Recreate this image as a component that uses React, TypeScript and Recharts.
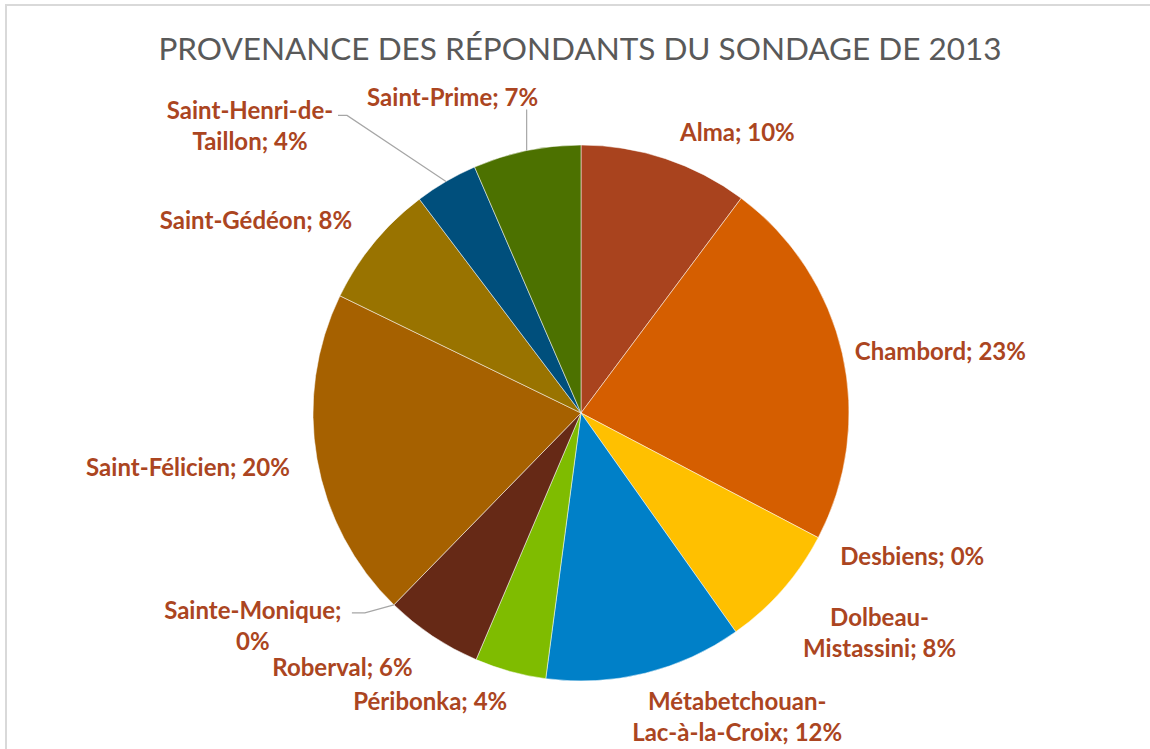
import { Cell, Pie, PieChart } from "recharts";

const regions = [
  "Alma",
  "Chambord",
  "Desbiens",
  "Dolbeau-Mistassini",
  "Métabetchouan-Lac-à-la-Croix",
  "Péribonka",
  "Roberval",
  "Sainte-Monique",
  "Saint-Félicien",
  "Saint-Gédéon",
  "Saint-Henri-de-Taillon",
  "Saint-Prime",
];
const shares = [10.2, 22.5, 0, 7.5, 11.9, 4.3, 5.9, 0, 19.9, 7.5, 3.8, 6.5];
const colors = [
  "#A9431E",
  "#D55E00",
  "#E8A200",
  "#FFC000",
  "#0080C8",
  "#7FBC00",
  "#662916",
  "#7F7F7F",
  "#A66100",
  "#997300",
  "#004F7C",
  "#4C7100",
];

const data = regions.map((name, i) => ({ name, value: shares[i] }));

// label nudges from the slice's outer edge, line wrapping and leader lines
type Layout = {
  dx: number;
  dy: number;
  wrap?: "first" | "last" | "semi";
  leader?: [number, number][];
};
const layout: Layout[] = [
  { dx: 72, dy: -28 },
  { dx: 98, dy: -4 },
  { dx: 94, dy: 17 },
  { dx: 97, dy: 42, wrap: "first" },
  { dx: 92, dy: 42, wrap: "first" },
  { dx: -80, dy: 28 },
  { dx: -90, dy: 30 },
  { dx: -141, dy: 20, wrap: "semi", leader: [[-29, 8], [-42, 8]] },
  { dx: -129, dy: 7 },
  { dx: -118, dy: -24 },
  { dx: -196, dy: -57, wrap: "last", leader: [[-99, -66], [-108, -66]] },
  { dx: -74, dy: -55, leader: [[0, -41]] },
];

const RADIAN = Math.PI / 180;

function splitLabel(text: string, wrap?: string): string[] {
  if (!wrap) return [text];
  let idx = -1;
  if (wrap === "first") idx = text.indexOf("-");
  if (wrap === "last") idx = text.lastIndexOf("-", text.indexOf(";"));
  if (wrap === "semi") idx = text.indexOf(";");
  return [text.slice(0, idx + 1), text.slice(idx + 1).trim()];
}

function renderLabel(props: any) {
  const { cx, cy, midAngle, outerRadius, index, name, value } = props;
  const ax = cx + outerRadius * Math.cos(-midAngle * RADIAN);
  const ay = cy + outerRadius * Math.sin(-midAngle * RADIAN);
  const l = layout[index];
  const lines = splitLabel(`${name}; ${Math.round(value)}%`, l.wrap);
  const x = ax + l.dx;
  const y = ay + l.dy;
  const step = 31;
  const y0 = y - ((lines.length - 1) * step) / 2;
  return (
    <g key={`lbl-${index}`}>
      {l.leader && (
        <polyline
          points={[[0, 0], ...l.leader].map(([px, py]) => `${ax + px},${ay + py}`).join(" ")}
          fill="none"
          stroke="#A6A6A6"
          strokeWidth={1.2}
        />
      )}
      <text
        x={x}
        y={y0}
        textAnchor="middle"
        dominantBaseline="central"
        fill="#AB4521"
        fontFamily="Lato, sans-serif"
        fontWeight={700}
        fontSize={24}
      >
        {lines.map((t, i) => (
          <tspan key={i} x={x} y={y0 + i * step} dominantBaseline="central">
            {t}
          </tspan>
        ))}
      </text>
    </g>
  );
}

export default function App() {
  return (
    <div
      style={{
        position: "absolute",
        left: 0,
        top: 0,
        width: 1150,
        height: 749,
        overflow: "hidden",
        background: "#fff",
      }}
    >
      <div
        style={{
          position: "absolute",
          left: 5,
          top: 4,
          width: 1200,
          height: 800,
          border: "2px solid #D9D9D9",
        }}
      />
      <div
        style={{
          position: "absolute",
          left: 0,
          top: 28,
          width: 1160,
          textAlign: "center",
          fontFamily: "Lato, sans-serif",
          fontSize: 31.5,
          color: "#595959",
          lineHeight: "40px",
        }}
      >
        PROVENANCE DES RÉPONDANTS DU SONDAGE DE 2013
      </div>
      <div style={{ position: "absolute", left: 0, top: 0 }}>
        <PieChart width={1150} height={749} margin={{ top: 0, right: 0, bottom: 0, left: 0 }}>
          <Pie
            data={data}
            dataKey="value"
            nameKey="name"
            cx={581}
            cy={413}
            outerRadius={268}
            startAngle={90}
            endAngle={-270}
            stroke="#fff"
            strokeWidth={0.5}
            label={renderLabel}
            labelLine={false}
            isAnimationActive={false}
          >
            {data.map((d, i) => (
              <Cell key={d.name} fill={colors[i]} />
            ))}
          </Pie>
        </PieChart>
      </div>
    </div>
  );
}
